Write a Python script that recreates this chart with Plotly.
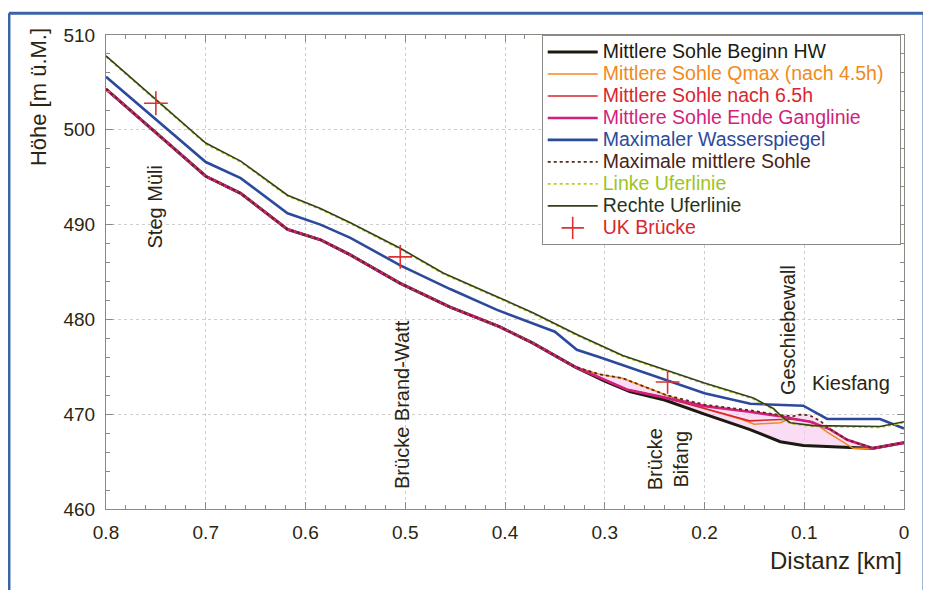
import plotly.graph_objects as go

# ---------------- data ----------------
# common bed upstream (all mean-bed lines coincide here)
dist_oben = [0.8, 0.7, 0.665, 0.618, 0.585, 0.555, 0.505, 0.455, 0.405, 0.372, 0.33]
sohle_oben = [504.3, 495.1, 493.3, 489.5, 488.4, 486.8, 483.8, 481.3, 479.2, 477.5, 475.0]

dist_beginn = [0.3, 0.275, 0.24, 0.2, 0.155, 0.124, 0.101, 0.054, 0.031, 0.0]
sohle_beginn = [473.5, 472.4, 471.5, 470.0, 468.4, 467.1, 466.7, 466.5, 466.4, 467.0]

dist_qmax = [0.305, 0.282, 0.26, 0.238, 0.2, 0.164, 0.15, 0.124, 0.115, 0.091, 0.077, 0.061, 0.051, 0.031, 0.0]
sohle_qmax = [474.2, 473.8, 472.9, 472.0, 470.6, 469.5, 468.95, 469.1, 469.5, 469.2, 468.1, 467.0, 466.4, 466.4, 467.0]

dist_65h = [0.3, 0.278, 0.242, 0.22, 0.2, 0.155, 0.124, 0.11, 0.094, 0.074, 0.057, 0.031, 0.0]
sohle_65h = [473.6, 472.6, 471.8, 471.2, 470.6, 469.3, 469.4, 469.5, 469.2, 468.4, 467.3, 466.4, 467.0]

dist_ende = [0.3, 0.278, 0.242, 0.2, 0.155, 0.124, 0.11, 0.094, 0.074, 0.057, 0.031, 0.0]
sohle_ende = [473.6, 472.6, 471.8, 470.85, 470.25, 469.8, 469.5, 469.2, 468.4, 467.3, 466.4, 467.0]

dist_maxsohle = [0.305, 0.282, 0.26, 0.238, 0.2, 0.154, 0.124, 0.111, 0.105, 0.095, 0.084, 0.074, 0.057, 0.031, 0.0]
sohle_max = [474.2, 473.8, 472.9, 472.0, 471.0, 470.4, 469.9, 469.8, 469.95, 469.9, 469.3, 468.4, 467.3, 466.4, 467.0]

dist_ws = [0.8, 0.7, 0.665, 0.618, 0.585, 0.555, 0.505, 0.455, 0.408, 0.35, 0.328, 0.305, 0.2, 0.154, 0.101, 0.077, 0.024, 0.0]
wasserspiegel = [505.6, 496.6, 494.9, 491.2, 490.0, 488.6, 485.7, 483.2, 481.0, 478.7, 476.8, 476.0, 472.2, 471.1, 470.9, 469.5, 469.5, 468.5]

dist_ufer = [0.8, 0.7, 0.665, 0.618, 0.585, 0.555, 0.505, 0.462, 0.408, 0.372, 0.328, 0.282, 0.2, 0.151, 0.131, 0.121, 0.114, 0.091, 0.024, 0.0]
ufer_rechts = [507.8, 498.6, 496.7, 493.1, 491.7, 490.2, 487.5, 484.9, 482.4, 480.7, 478.4, 476.2, 473.3, 471.7, 470.6, 469.6, 469.1, 468.8, 468.7, 469.2]
ufer_links = [507.7, 498.5, 496.6, 493.0, 491.6, 490.1, 487.4, 484.8, 482.3, 480.6, 478.3, 476.1, 473.2, 471.6, 470.5, 469.5, 469.0, 468.7, 468.6, 469.1]

dist_uk = [0.75, 0.505, 0.237]
uk_bruecke = [502.8, 486.6, 473.4]

x_ticks = [0.8, 0.7, 0.6, 0.5, 0.4, 0.3, 0.2, 0.1, 0.0]
x_ticktext = ["0.8", "0.7", "0.6", "0.5", "0.4", "0.3", "0.2", "0.1", "0"]
y_ticks = [460, 470, 480, 490, 500, 510]

FONT = "Liberation Sans, Arial, Helvetica, sans-serif"
TXT = "#2b2512"

def full(dx, dy):
    return dist_oben + dx, sohle_oben + dy

def lname(text, color):
    return f'<span style="font-size:19.5px;color:{color}">{text}</span>'

fig = go.Figure()

# pink area between initial bed and maximum mean bed
fx = [dist_oben[-1]] + dist_maxsohle + dist_beginn[::-1] + [dist_oben[-1]]
fy = [sohle_oben[-1]] + sohle_max + sohle_beginn[::-1] + [sohle_oben[-1]]
fig.add_trace(go.Scatter(x=fx, y=fy, fill="toself", mode="lines", line=dict(width=0),
                         fillcolor="rgba(246,196,236,0.6)", showlegend=False, hoverinfo="skip"))

series = [
    ("Mittlere Sohle Beginn HW", "#1c1a10", full(dist_beginn, sohle_beginn), 3, "solid"),
    ("Mittlere Sohle Qmax (nach 4.5h)&nbsp;&nbsp;", "#f08a1c", full(dist_qmax, sohle_qmax), 1.5, "solid"),
    ("Mittlere Sohle nach 6.5h", "#d8262e", full(dist_65h, sohle_65h), 1.6, "solid"),
    ("Mittlere Sohle Ende Ganglinie", "#d21f7c", full(dist_ende, sohle_ende), 2.6, "solid"),
    ("Maximaler Wasserspiegel", "#2c4a9c", (dist_ws, wasserspiegel), 2.6, "solid"),
    ("Maximale mittlere Sohle", "#5a2a18", full(dist_maxsohle, sohle_max), 1.8, "dot"),
    ("Linke Uferlinie", "#b4d21e", (dist_ufer, ufer_links), 1.6, "dot"),
    ("Rechte Uferlinie", "#34401a", (dist_ufer, ufer_rechts), 1.6, "solid"),
]
text_colors = ["#1c1a10", "#f08a1c", "#d8262e", "#d21f7c", "#2c4a9c", "#4a2414", "#9cc41e", "#2a3416"]
for (name, col, (xs, ys), w, dash), tc in zip(series, text_colors):
    fig.add_trace(go.Scatter(x=xs, y=ys, mode="lines", name=lname(name, tc),
                             line=dict(color=col, width=w, dash=dash)))

fig.add_trace(go.Scatter(x=dist_uk, y=uk_bruecke, mode="markers", name=lname("UK Brücke", "#d8262e"),
                         marker=dict(symbol="cross-thin", size=17, line=dict(color="#e03030", width=1.6))))

# place labels
labels = [
    ("Steg Müli", 0.751, 491.9, -90),
    ("Brücke Brand-Watt", 0.504, 471.0, -90),
    ("Brücke<br>Bifang", 0.237, 465.2, -90),
    ("Geschiebewall", 0.116, 478.9, -90),
    ("Kiesfang", 0.053, 473.3, 0),
]
for t, x, y, ang in labels:
    fig.add_annotation(x=x, y=y, text=t, textangle=ang, showarrow=False,
                       font=dict(family=FONT, size=20, color=TXT), xanchor="center", yanchor="middle")

# axis titles
fig.add_annotation(xref="paper", yref="paper", x=1.0, y=-0.108, text="Distanz [km]", showarrow=False,
                   xanchor="right", yanchor="middle", font=dict(family=FONT, size=24, color=TXT))
fig.add_annotation(xref="paper", yref="paper", x=-0.0852, y=0.869, text="Höhe [m ü.M.]", showarrow=False,
                   textangle=-90, xanchor="center", yanchor="middle", font=dict(family=FONT, size=22, color=TXT))

# blue frame around the figure (left, top, right; bottom lies outside the picture)
frame = dict(color="#3a64a8", width=3)
fx0, fx1, fy0, fy1 = -0.1216, 1.0251, -0.3, 1.046
for x0, y0, x1, y1 in [(fx0, fy0, fx0, fy1), (fx0, fy1, fx1, fy1), (fx1, fy1, fx1, fy0)]:
    fig.add_shape(type="line", xref="paper", yref="paper", x0=x0, y0=y0, x1=x1, y1=y1,
                  line=frame, layer="below")

axis_common = dict(showline=True, linecolor="#8c8884", linewidth=1, mirror="ticks",
                   ticks="inside", ticklen=7, tickcolor="#8c8884",
                   showgrid=True, gridcolor="#cfcfcf", griddash="dot", gridwidth=1,
                   zeroline=False, tickfont=dict(family=FONT, size=19, color=TXT))

fig.update_xaxes(range=[0.8, 0.0], tickvals=x_ticks, ticktext=x_ticktext,
                 minor=dict(dtick=0.02, ticks="inside", ticklen=4, tickcolor="#8c8884", showgrid=False),
                 ticklabelstandoff=6, **axis_common)
fig.update_yaxes(range=[460, 510], tickvals=y_ticks,
                 minor=dict(dtick=2, ticks="inside", ticklen=4, tickcolor="#8c8884", showgrid=False),
                 ticklabelstandoff=6, **axis_common)

fig.update_layout(
    width=915, height=582,
    margin=dict(l=98, r=19, t=27, b=81),
    paper_bgcolor="white", plot_bgcolor="white",
    font=dict(family=FONT, color=TXT),
    legend=dict(x=0.546, y=1.0, xanchor="left", yanchor="top", bgcolor="white",
                bordercolor="#8c8884", borderwidth=1, font=dict(family=FONT, size=14.6),
                itemwidth=50, tracegroupgap=0),
    showlegend=True,
)

fig.write_html("out.html")
